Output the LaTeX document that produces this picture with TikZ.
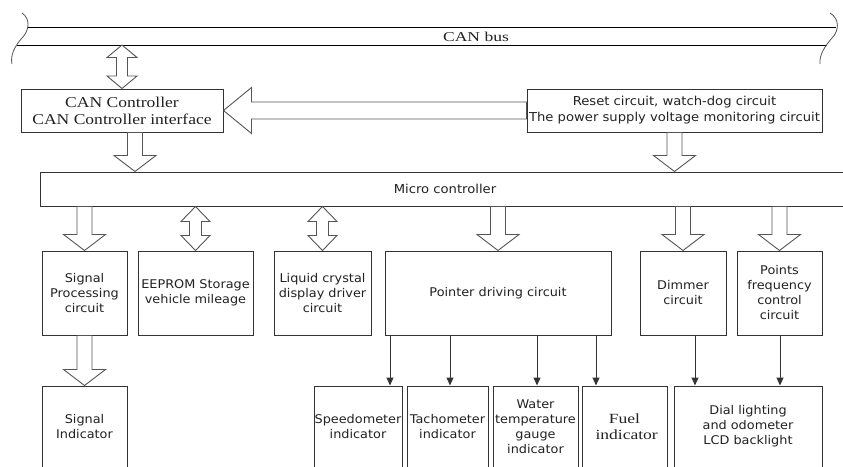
\documentclass[tikz,border=0pt]{standalone}
\usepackage{fontspec}
\setmainfont{Liberation Serif}
\newfontfamily\sansf[FakeStretch=1.07]{DejaVu Sans}
\newfontfamily\serifC[FakeStretch=1.17]{Liberation Serif}
\newfontfamily\serifB[FakeStretch=1.3]{Liberation Serif}
\newfontfamily\serifF[FakeStretch=1.25]{Liberation Serif}
\usetikzlibrary{calc,arrows.meta}
\definecolor{boxc}{HTML}{333333}
\definecolor{arrc}{HTML}{555555}
\definecolor{txtc}{HTML}{222222}
\tikzset{
  box/.style={draw=boxc, line width=1pt, inner sep=0pt, align=center, text=txtc,
    font=\sansf\fontsize{12}{15}\selectfont},
  serifbox/.style={box, font=\serifC\fontsize{15}{17}\selectfont},
  blk/.style={draw=arrc, line width=0.9pt, fill=white, line join=miter},
  tarrow/.style={draw=boxc, line width=1pt, -{Triangle[length=8pt,width=7pt]}},
  busline/.style={draw=black, line width=1pt}
}
% hollow block arrow pointing down: #1 start (top), #2 tip (bottom)
\newcommand\bdown[2]{\draw[blk] let \p1=#1, \p2=#2 in
  (\x1-7.5pt,\y1) -- (\x1+7.5pt,\y1) -- (\x1+7.5pt,\y2+16pt) -- (\x1+21pt,\y2+16pt)
  -- (\x1,\y2) -- (\x1-21pt,\y2+16pt) -- (\x1-7.5pt,\y2+16pt) -- cycle;}
% hollow double arrow: #1 top tip, #2 bottom tip, #3 head length, #4 head half width, #5 shaft half width
\newcommand\bdouble[5]{\draw[blk] let \p1=#1, \p2=#2 in
  (\x1,\y1) -- (\x1+#4,\y1-#3) -- (\x1+#5,\y1-#3) -- (\x1+#5,\y2+#3) -- (\x1+#4,\y2+#3)
  -- (\x1,\y2) -- (\x1-#4,\y2+#3) -- (\x1-#5,\y2+#3) -- (\x1-#5,\y1-#3) -- (\x1-#4,\y1-#3) -- cycle;}
\begin{document}
\begin{tikzpicture}[x=1pt,y=-1pt]
\clip (0,0) rectangle (843,466);
\fill[white] (0,0) rectangle (843,466);

% CAN bus
\draw[busline] (28,27) -- (836,27);
\draw[busline] (17,45) -- (827,45);
\draw[line width=0.8pt, draw=arrc] (22,13) .. controls (31,19) and (29,31) .. (22,38) .. controls (15,46) and (10,55) .. (12,64);
\draw[line width=0.8pt, draw=arrc] (830,13) .. controls (840,19) and (839,31) .. (832,38) .. controls (825,46) and (819,55) .. (820,64);
\node[text=txtc, font=\serifB\fontsize{13.5}{15}\selectfont] (bus) at (476,36.5) {CAN bus};
\coordinate (busb) at (122,45);

% top row
\node[serifbox, minimum width=202pt, minimum height=43pt] (canc) at (122,110.5)
  {CAN Controller\\CAN Controller interface};
\node[box, font=\sansf\fontsize{12.3}{16}\selectfont, minimum width=295pt, minimum height=43pt] (reset) at (674.5,110.5)
  {Reset circuit, watch-dog circuit\\The power supply voltage monitoring circuit};
\node[box, minimum width=810pt, minimum height=34pt, font=\sansf\fontsize{12.3}{15}\selectfont] (mc) at (445,189) {Micro controller};

% second row
\node[box, minimum width=85pt, minimum height=84pt] (sp) at (84.5,293) {Signal\\Processing\\circuit};
\node[box, minimum width=115pt, minimum height=84pt] (ee) at (195.5,293) {EEPROM Storage\\vehicle mileage};
\node[box, minimum width=97pt, minimum height=84pt] (lcd) at (322.5,293) {Liquid crystal\\display driver\\circuit};
\node[box, minimum width=226pt, minimum height=84pt] (pd) at (498,293) {Pointer driving circuit};
\node[box, minimum width=86pt, minimum height=84pt] (dim) at (683,293) {Dimmer\\circuit};
\node[box, minimum width=85pt, minimum height=84pt] (pf) at (779.5,293) {Points\\frequency\\control\\circuit};

% third row
\node[box, minimum width=85pt, minimum height=81pt] (si) at (84.5,426.5) {Signal\\Indicator};
\node[box, minimum width=88pt, minimum height=81pt] (spd) at (358,426.5) {Speedometer\\indicator};
\node[box, minimum width=81pt, minimum height=81pt] (tac) at (447.5,426.5) {Tachometer\\indicator};
\node[box, minimum width=85pt, minimum height=81pt] (wat) at (535.5,426.5) {Water\\temperature\\gauge\\indicator};
\node[box, font=\serifF\fontsize{14}{16}\selectfont, minimum width=85pt, minimum height=81pt] (fuel) at (624.5,426.5) {Fuel\\\ indicator};
\node[box, minimum width=148pt, minimum height=81pt] (dial) at (748,426.5) {Dial lighting\\and odometer\\LCD backlight};

% block arrows
\bdouble{(busb)}{(canc.north)}{12.5pt}{15pt}{5.5pt}
\draw[blk] let \p1=(reset.west), \p2=(canc.east) in
  (\x1,\y1+8.5pt) -- (\x2+28pt,\y1+8.5pt) -- (\x2+28pt,\y1+23pt) -- (\x2,\y2)
  -- (\x2+28pt,\y1-23pt) -- (\x2+28pt,\y1-8.5pt) -- (\x1,\y1-8.5pt) -- cycle;
\coordinate (xc) at (135,0);
\bdown{(canc.south -| xc)}{(mc.north -| xc)}
\bdown{(reset.south)}{(mc.north -| reset.south)}
\bdown{(mc.south -| sp.north)}{(sp.north)}
\bdouble{(mc.south -| ee.north)}{(ee.north)}{15pt}{14.5pt}{6pt}
\bdouble{(mc.south -| lcd.north)}{(lcd.north)}{15pt}{14.5pt}{6pt}
\bdown{(mc.south -| pd.north)}{(pd.north)}
\bdown{(mc.south -| dim.north)}{(dim.north)}
\bdown{(mc.south -| pf.north)}{(pf.north)}
\bdown{(sp.south)}{(si.north)}

% thin arrows
\coordinate (a1) at (390,0);
\coordinate (a2) at (450,0);
\coordinate (a3) at (537,0);
\coordinate (a4) at (596,0);
\coordinate (a5) at (695,0);
\coordinate (a6) at (780,0);
\draw[tarrow] (pd.south -| a1) -- (spd.north -| a1);
\draw[tarrow] (pd.south -| a2) -- (tac.north -| a2);
\draw[tarrow] (pd.south -| a3) -- (wat.north -| a3);
\draw[tarrow] (pd.south -| a4) -- (fuel.north -| a4);
\draw[tarrow] (dim.south -| a5) -- (dial.north -| a5);
\draw[tarrow] (pf.south -| a6) -- (dial.north -| a6);
\end{tikzpicture}
\end{document}
